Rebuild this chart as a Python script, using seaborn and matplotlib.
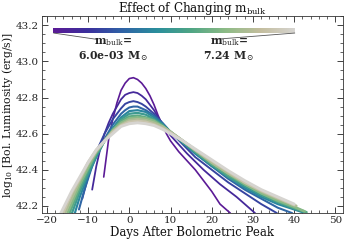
#!/usr/bin/env python3
"""Bolometric light curves for a sweep of m_bulk, coloured along a colour bar."""

import matplotlib
matplotlib.use("Agg")
import matplotlib.pyplot as plt
import numpy as np
import pandas as pd
import seaborn as sns
from matplotlib.colors import LinearSegmentedColormap
from matplotlib.cm import ScalarMappable
from matplotlib.ticker import MultipleLocator

sns.set_theme(style="ticks")
plt.rcParams["font.family"] = ["DejaVu Serif"]
plt.rcParams["mathtext.fontset"] = "dejavuserif"

# one (days, log L) list per model, m_bulk low -> high
days_0 = [-6.2, -5, -4, -3, -2, -1, 0, 1, 2, 3, 4, 5, 6, 7, 8, 9, 10, 12, 14, 16, 18, 20, 22, 24.5]
lum_0 = [42.36, 42.57, 42.68, 42.77, 42.84, 42.88, 42.905, 42.91, 42.90, 42.88, 42.85, 42.81,
         42.76, 42.70, 42.65, 42.60, 42.56, 42.50, 42.45, 42.40, 42.34, 42.28, 42.21, 42.16]
days_1 = [-9, -8, -7, -6, -5, -4, -3, -2, -1, 0, 1, 2, 3, 4, 5, 6, 7, 8, 10, 14, 18, 22, 26, 30.5]
lum_1 = [42.29, 42.42, 42.52, 42.60, 42.66, 42.71, 42.75, 42.79, 42.815, 42.825, 42.83, 42.825,
         42.81, 42.79, 42.76, 42.73, 42.69, 42.655, 42.59, 42.49, 42.40, 42.32, 42.25, 42.16]
days_2 = [-11.4, -10, -9, -8, -7, -6, -5, -4, -3, -2, -1, 0, 1, 2, 3, 4, 5, 6, 8, 10, 13, 16,
          20, 24, 28, 32, 35.8]
lum_2 = [42.24, 42.36, 42.43, 42.50, 42.55, 42.60, 42.64, 42.68, 42.71, 42.74, 42.765, 42.775,
         42.78, 42.775, 42.765, 42.75, 42.73, 42.71, 42.66, 42.61, 42.54, 42.47, 42.40, 42.33,
         42.27, 42.21, 42.16]
days_3 = [-12.2, -11, -10, -9, -8, -7, -6, -5, -4, -3, -2, -1, 0, 1, 2, 3, 4, 5, 6, 8, 10, 13,
          16, 20, 24, 28, 32, 36, 39.5]
lum_3 = [42.18, 42.28, 42.35, 42.42, 42.48, 42.53, 42.57, 42.61, 42.65, 42.68, 42.71, 42.73,
         42.745, 42.75, 42.75, 42.74, 42.73, 42.715, 42.70, 42.66, 42.61, 42.55, 42.49, 42.42,
         42.35, 42.29, 42.24, 42.19, 42.16]
days_4 = [-13.2, -12, -10, -8, -6, -4, -2, 0, 2, 4, 6, 8, 10, 13, 16, 20, 24, 28, 32, 36, 40, 42]
lum_4 = [42.16, 42.25, 42.37, 42.47, 42.56, 42.63, 42.69, 42.725, 42.73, 42.72, 42.69, 42.655,
         42.61, 42.55, 42.49, 42.42, 42.36, 42.30, 42.25, 42.21, 42.18, 42.165]
days_5 = [-13.9, -12, -10, -8, -6, -4, -2, 0, 2, 4, 6, 8, 10, 13, 16, 20, 24, 28, 32, 36, 40, 42.5]
lum_5 = [42.16, 42.28, 42.38, 42.48, 42.56, 42.62, 42.68, 42.71, 42.715, 42.705, 42.68, 42.65,
         42.61, 42.55, 42.50, 42.43, 42.36, 42.31, 42.26, 42.22, 42.185, 42.165]
days_6 = [-14.5, -12, -10, -8, -6, -4, -2, 0, 2, 4, 6, 8, 10, 13, 16, 20, 24, 28, 32, 36, 40, 43]
lum_6 = [42.16, 42.30, 42.40, 42.49, 42.56, 42.62, 42.67, 42.695, 42.70, 42.69, 42.675, 42.645,
         42.61, 42.56, 42.50, 42.43, 42.37, 42.32, 42.27, 42.225, 42.19, 42.165]
days_7 = [-15, -12, -10, -8, -6, -4, -2, 0, 2, 4, 6, 8, 10, 13, 16, 20, 24, 28, 32, 36, 40, 42.5]
lum_7 = [42.16, 42.32, 42.41, 42.50, 42.56, 42.62, 42.66, 42.685, 42.69, 42.685, 42.67, 42.64,
         42.61, 42.56, 42.51, 42.44, 42.38, 42.32, 42.27, 42.23, 42.195, 42.17]
days_8 = [-15.6, -12, -10, -8, -6, -4, -2, 0, 2, 4, 6, 8, 10, 13, 16, 20, 24, 28, 32, 36, 40.5]
lum_8 = [42.16, 42.34, 42.43, 42.50, 42.56, 42.61, 42.65, 42.675, 42.68, 42.675, 42.66, 42.64,
         42.61, 42.56, 42.51, 42.44, 42.38, 42.33, 42.28, 42.24, 42.20]
days_9 = [-16.1, -14, -12, -10, -8, -6, -4, -2, 0, 2, 4, 6, 8, 10, 13, 16, 20, 24, 28, 32, 36, 40]
lum_9 = [42.16, 42.27, 42.35, 42.44, 42.51, 42.56, 42.61, 42.645, 42.665, 42.67, 42.665, 42.65,
         42.63, 42.605, 42.56, 42.51, 42.45, 42.39, 42.33, 42.285, 42.245, 42.205]
days_10 = [-16.6, -14, -12, -10, -8, -6, -4, -2, 0, 2, 4, 6, 8, 10, 13, 16, 20, 24, 28, 32, 36, 40]
lum_10 = [42.16, 42.28, 42.36, 42.44, 42.51, 42.56, 42.60, 42.64, 42.655, 42.66, 42.655, 42.645,
          42.625, 42.60, 42.56, 42.515, 42.455, 42.395, 42.34, 42.29, 42.25, 42.21]

all_days = [days_0, days_1, days_2, days_3, days_4, days_5, days_6, days_7, days_8, days_9, days_10]
all_lum = [lum_0, lum_1, lum_2, lum_3, lum_4, lum_5, lum_6, lum_7, lum_8, lum_9, lum_10]

label_low = "6.0e-03"
label_high = "7.24"

cmap = LinearSegmentedColormap.from_list(
    "mbulk", ["#5b1a96", "#3a2f9c", "#2f62a6", "#2a8e9c", "#4fa584", "#8dbb86",
              "#c3bd9d", "#d6d4d0"])

records = []
for i, (d, l) in enumerate(zip(all_days, all_lum)):
    for x, y in zip(d, l):
        records.append({"model": i, "day": x, "lum": y})
df = pd.DataFrame.from_records(records)

n = len(all_days)
palette = {i: cmap(i / (n - 1)) for i in range(n)}
sizes = {i: 1.2 + 0.9 * i / (n - 1) for i in range(n)}

fig = plt.figure(figsize=(3.46, 2.43), dpi=100)
ax = fig.add_axes([0.121, 0.123, 0.870, 0.810])
sns.lineplot(data=df, x="day", y="lum", hue="model", size="model", palette=palette,
             sizes=sizes, units="model", estimator=None, sort=False, legend=False, ax=ax)

ax.set_xlim(-21.2, 51.8)
ax.set_ylim(42.16, 43.25)
ax.xaxis.set_major_locator(MultipleLocator(10))
ax.xaxis.set_minor_locator(MultipleLocator(2))
ax.yaxis.set_major_locator(MultipleLocator(0.2))
ax.yaxis.set_minor_locator(MultipleLocator(0.05))
ax.tick_params(which="both", direction="in", top=True, right=True, labelsize=7.5, pad=2,
               colors="#222222")
ax.tick_params(which="major", length=4, width=0.6)
ax.tick_params(which="minor", length=2, width=0.5)
for s in ax.spines.values():
    s.set_linewidth(0.6)
    s.set_color("#333333")
ax.set_xlabel("Days After Bolometric Peak", fontsize=8.5, labelpad=1, color="#111111")
ax.set_ylabel(r"log$_{10}$ [Bol. Luminosity (erg/s)]", fontsize=7.8, labelpad=0.5,
              color="#111111")
fig.text(0.555, 0.967, r"Effect of Changing m$_{\rm bulk}$", ha="center", va="center",
         fontsize=8.6, color="#111111")

# colour bar across the top with its two end labels
cax = fig.add_axes([0.153, 0.864, 0.700, 0.022])
cb = fig.colorbar(ScalarMappable(cmap=cmap), cax=cax, orientation="horizontal")
cb.outline.set_visible(False)
cax.set_xticks([])
cax.set_yticks([])

fig.text(0.327, 0.795, "m$_{\\rm bulk}$=\n" + label_low + r" M$_\odot$", ha="center",
         va="center", fontsize=7.8, fontweight="bold", linespacing=1.1)
fig.text(0.662, 0.795, "m$_{\\rm bulk}$=\n" + label_high + r" M$_\odot$", ha="center",
         va="center", fontsize=7.8, fontweight="bold", linespacing=1.1)
fig.add_artist(plt.Line2D([0.155, 0.28], [0.864, 0.838], color="#555555", lw=0.6))
fig.add_artist(plt.Line2D([0.852, 0.62], [0.864, 0.838], color="#555555", lw=0.6))

fig.savefig("out.png", dpi=100)
